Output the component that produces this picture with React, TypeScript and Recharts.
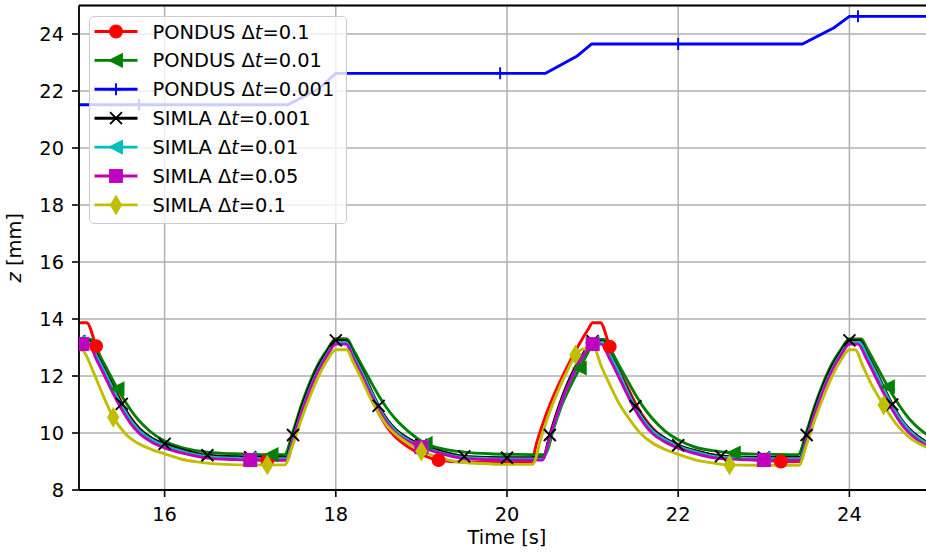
import React from 'react';
import { LineChart, Line, XAxis, YAxis, CartesianGrid, ReferenceLine } from 'recharts';

const FONT = 'DejaVu Sans';
const FS = 19.4;

const X_TICKS = [16, 18, 20, 22, 24];
const Y_TICKS = [8, 10, 12, 14, 16, 18, 20, 22, 24];

// PONDUS dt=0.1 (red)
const T_P01 = [15.0, 15.09, 15.2, 15.3, 15.4, 15.5, 15.6, 15.7, 15.85, 16.0, 16.2, 16.5, 16.8, 17.0, 17.2, 17.42,
  17.5, 17.6, 17.7, 17.8, 17.9, 18.0, 18.1,
  18.2, 18.3, 18.4, 18.5, 18.6, 18.7, 18.85, 19.0, 19.2, 19.5, 20.0, 20.28,
  20.35, 20.45, 20.55, 20.65, 20.75, 20.85, 20.95, 21.0, 21.09,
  21.2, 21.3, 21.4, 21.5, 21.6, 21.7, 21.85, 22.0, 22.2, 22.5, 22.8, 23.0, 23.2, 23.42,
  23.5, 23.6, 23.7, 23.8, 23.9, 24.0, 24.12,
  24.2, 24.3, 24.4, 24.5, 24.6, 24.7, 24.8, 24.9];
const Z_P01 = [13.87, 13.87, 13.05, 12.3, 11.65, 11.05, 10.55, 10.17, 9.8, 9.57, 9.36, 9.18, 9.1, 9.06, 9.05, 9.05,
  9.85, 10.85, 11.7, 12.4, 12.9, 13.3, 13.3,
  12.7, 12.0, 11.3, 10.7, 10.2, 9.85, 9.5, 9.25, 9.05, 8.98, 8.97, 8.97,
  9.7, 10.6, 11.35, 12.0, 12.6, 13.15, 13.65, 13.87, 13.87,
  13.03, 12.3, 11.65, 11.05, 10.55, 10.17, 9.8, 9.57, 9.36, 9.18, 9.08, 9.04, 9.0, 9.0,
  9.85, 10.85, 11.7, 12.4, 12.9, 13.25, 13.25,
  12.8, 12.22, 11.6, 11.0, 10.5, 10.12, 9.86, 9.66];
const M_P01 = [15.2, 17.2, 19.2, 21.2, 23.2];

// PONDUS dt=0.01 (green)
const T_P001 = [15.0, 15.14, 15.2, 15.3, 15.45, 15.55, 15.65, 15.75, 15.9, 16.05, 16.25, 16.5, 16.8, 17.0, 17.25, 17.4,
  17.5, 17.6, 17.7, 17.8, 17.9, 18.0,
  18.13, 18.2, 18.3, 18.4, 18.5, 18.6, 18.7, 18.85, 19.05, 19.25, 19.5, 19.8, 20.1, 20.44,
  20.55, 20.65, 20.75, 20.85, 20.95, 21.03,
  21.14, 21.2, 21.3, 21.4, 21.5, 21.6, 21.7, 21.85, 22.0, 22.2, 22.4, 22.65, 22.9, 23.1, 23.4,
  23.5, 23.6, 23.7, 23.8, 23.9, 24.0,
  24.14, 24.2, 24.3, 24.45, 24.55, 24.65, 24.75, 24.9];
const Z_P001 = [13.28, 13.28, 12.95, 12.4, 11.55, 11.05, 10.62, 10.28, 9.9, 9.65, 9.45, 9.33, 9.27, 9.25, 9.24, 9.24,
  10.05, 11.0, 11.8, 12.45, 12.92, 13.3,
  13.3, 12.95, 12.4, 11.85, 11.32, 10.86, 10.48, 10.05, 9.63, 9.44, 9.33, 9.27, 9.25, 9.24,
  10.2, 11.05, 11.7, 12.28, 12.85, 13.28,
  13.28, 12.98, 12.42, 11.88, 11.35, 10.88, 10.5, 10.06, 9.76, 9.5, 9.38, 9.3, 9.26, 9.25, 9.24,
  10.05, 11.0, 11.8, 12.45, 12.92, 13.3,
  13.3, 13.0, 12.45, 11.62, 11.12, 10.68, 10.33, 9.95];
const M_P001 = [15.45, 17.25, 19.05, 20.85, 22.65, 24.45];

// PONDUS dt=0.001 (blue)
const T_P0001 = [15.0, 15.7, 17.44, 17.8, 18.0, 19.92, 20.45, 20.82, 20.99, 22.0, 23.45, 23.82, 24.0, 24.1, 24.9];
const Z_P0001 = [21.52, 21.52, 21.52, 22.08, 22.62, 22.62, 22.62, 23.23, 23.65, 23.65, 23.65, 24.22, 24.62, 24.62, 24.62];
const M_P0001 = [15.7, 19.92, 22.0, 24.1];

// SIMLA dt=0.001 (black) and dt=0.01 (cyan)
const T_S = [15.0, 15.12, 15.2, 15.3, 15.4, 15.5, 15.6, 15.7, 15.85, 16.0, 16.2, 16.5, 16.8, 17.0, 17.42,
  17.5, 17.6, 17.7, 17.8, 17.9, 18.0,
  18.12, 18.2, 18.3, 18.4, 18.5, 18.6, 18.7, 18.85, 19.0, 19.2, 19.5, 19.8, 20.0, 20.42,
  20.5, 20.6, 20.7, 20.8, 20.9, 21.0,
  21.12, 21.2, 21.3, 21.4, 21.5, 21.6, 21.7, 21.85, 22.0, 22.2, 22.5, 22.8, 23.0, 23.42,
  23.5, 23.6, 23.7, 23.8, 23.9, 24.0,
  24.12, 24.2, 24.3, 24.4, 24.5, 24.6, 24.7, 24.8, 24.9];
const Z_S0001 = [13.22, 13.22, 12.78, 12.2, 11.6, 11.02, 10.52, 10.16, 9.82, 9.62, 9.42, 9.22, 9.17, 9.15, 9.15,
  9.93, 10.88, 11.7, 12.35, 12.85, 13.25,
  13.25, 12.8, 12.22, 11.58, 10.95, 10.47, 10.12, 9.8, 9.58, 9.38, 9.18, 9.14, 9.13, 9.13,
  9.93, 10.88, 11.68, 12.32, 12.82, 13.22,
  13.22, 12.78, 12.2, 11.55, 10.94, 10.47, 10.12, 9.8, 9.57, 9.38, 9.19, 9.15, 9.14, 9.14,
  9.93, 10.88, 11.7, 12.35, 12.85, 13.25,
  13.25, 12.8, 12.22, 11.6, 11.0, 10.5, 10.14, 9.88, 9.68];
const M_S0001 = [15.0, 15.5, 16.0, 16.5, 17.0, 17.5, 18.0, 18.5, 19.0, 19.5, 20.0, 20.5, 21.0, 21.5, 22.0, 22.5, 23.0, 23.5, 24.0, 24.5];
const Z_S001 = [13.18, 13.18, 12.72, 12.14, 11.53, 10.95, 10.46, 10.1, 9.76, 9.56, 9.36, 9.17, 9.12, 9.1, 9.1,
  9.8, 10.75, 11.58, 12.25, 12.77, 13.18,
  13.18, 12.74, 12.16, 11.52, 10.9, 10.42, 10.07, 9.75, 9.53, 9.33, 9.14, 9.1, 9.09, 9.09,
  9.8, 10.75, 11.56, 12.22, 12.75, 13.16,
  13.18, 12.74, 12.16, 11.5, 10.9, 10.43, 10.08, 9.76, 9.53, 9.34, 9.15, 9.11, 9.1, 9.1,
  9.8, 10.75, 11.58, 12.25, 12.77, 13.18,
  13.18, 12.74, 12.16, 11.55, 10.95, 10.46, 10.1, 9.84, 9.64];
const M_S001 = [15.0, 17.0, 19.0, 21.0, 23.0];

// SIMLA dt=0.05 (magenta)
const T_S005 = [15.0, 15.04, 15.12, 15.2, 15.3, 15.4, 15.5, 15.6, 15.7, 15.85, 16.0, 16.2, 16.5, 16.8, 17.0, 17.43,
  17.5, 17.6, 17.7, 17.8, 17.9, 18.0,
  18.12, 18.2, 18.3, 18.4, 18.5, 18.6, 18.7, 18.85, 19.0, 19.2, 19.5, 19.8, 20.0, 20.41,
  20.5, 20.6, 20.7, 20.8, 20.9, 21.0,
  21.1, 21.2, 21.3, 21.4, 21.5, 21.6, 21.7, 21.85, 22.0, 22.2, 22.5, 22.8, 23.0, 23.43,
  23.5, 23.6, 23.7, 23.8, 23.9, 24.0,
  24.1, 24.2, 24.3, 24.4, 24.5, 24.6, 24.7, 24.8, 24.9];
const Z_S005 = [13.12, 13.12, 13.1, 12.6, 12.0, 11.38, 10.82, 10.35, 10.0, 9.68, 9.48, 9.3, 9.12, 9.07, 9.05, 9.05,
  9.75, 10.7, 11.52, 12.2, 12.72, 13.12,
  13.12, 12.65, 12.05, 11.42, 10.82, 10.35, 10.0, 9.7, 9.5, 9.3, 9.1, 9.06, 9.05, 9.05,
  9.85, 10.78, 11.58, 12.22, 12.75, 13.12,
  13.12, 12.6, 12.0, 11.38, 10.8, 10.33, 9.98, 9.68, 9.47, 9.28, 9.1, 9.06, 9.05, 9.05,
  9.75, 10.7, 11.52, 12.2, 12.72, 13.12,
  13.12, 12.6, 12.0, 11.4, 10.82, 10.35, 10.0, 9.75, 9.55];
const M_S005 = [15.04, 17.0, 19.0, 21.0, 23.0];

// SIMLA dt=0.1 (yellow)
const T_S01 = [15.0, 15.05, 15.16, 15.27, 15.4, 15.55, 15.7, 15.85, 16.0, 16.2, 16.4, 16.7, 17.0, 17.2, 17.4,
  17.5, 17.6, 17.7, 17.8, 17.9, 18.0,
  18.13, 18.2, 18.3, 18.4, 18.5, 18.6, 18.7, 18.85, 19.0, 19.2, 19.4, 19.7, 20.0, 20.3,
  20.4, 20.5, 20.6, 20.7, 20.8, 20.9, 21.02,
  21.1, 21.2, 21.32, 21.45, 21.55, 21.7, 21.85, 22.0, 22.2, 22.4, 22.6, 22.9, 23.41,
  23.5, 23.6, 23.7, 23.8, 23.9, 24.0, 24.07,
  24.15, 24.25, 24.4, 24.55, 24.7, 24.9];
const Z_S01 = [12.95, 12.88, 12.2, 11.4, 10.55, 9.95, 9.62, 9.42, 9.27, 9.08, 8.98, 8.9, 8.88, 8.88, 8.88,
  9.6, 10.5, 11.3, 12.0, 12.55, 12.92,
  12.92, 12.5, 11.9, 11.25, 10.7, 10.25, 9.95, 9.62, 9.36, 9.15, 9.0, 8.93, 8.9, 8.9,
  9.85, 10.75, 11.5, 12.15, 12.74, 12.95, 12.95,
  12.35, 11.7, 10.98, 10.4, 10.02, 9.65, 9.42, 9.25, 9.06, 8.95, 8.88, 8.87, 8.87,
  9.6, 10.5, 11.3, 12.0, 12.55, 12.92, 12.92,
  12.4, 11.75, 10.98, 10.3, 9.85, 9.5];
const M_S01 = [15.4, 17.2, 19.0, 20.8, 22.6, 24.4];

type Pt = { t: number; z: number; m: boolean };
const build = (t: number[], z: number[], marks: number[]): Pt[] =>
  t.map((tv, i) => ({ t: tv, z: z[i], m: marks.includes(tv) }));

const SERIES = [
  { name: 'PONDUS', dt: '0.1', color: '#ff0000', shape: 'o', curve: 'monotone', data: build(T_P01, Z_P01, M_P01) },
  { name: 'PONDUS', dt: '0.01', color: '#008000', shape: '<', curve: 'monotone', data: build(T_P001, Z_P001, M_P001) },
  { name: 'PONDUS', dt: '0.001', color: '#0000ff', shape: '+', curve: 'linear', data: build(T_P0001, Z_P0001, M_P0001) },
  { name: 'SIMLA', dt: '0.001', color: '#000000', shape: 'x', curve: 'monotone', data: build(T_S, Z_S0001, M_S0001) },
  { name: 'SIMLA', dt: '0.01', color: '#00bfbf', shape: '<', curve: 'monotone', data: build(T_S, Z_S001, M_S001) },
  { name: 'SIMLA', dt: '0.05', color: '#bf00bf', shape: 's', curve: 'monotone', data: build(T_S005, Z_S005, M_S005) },
  { name: 'SIMLA', dt: '0.1', color: '#bfbf00', shape: 'd', curve: 'monotone', data: build(T_S01, Z_S01, M_S01) },
];

const MS = 12;
const EW = 1.9;

function marker(shape: string, x: number, y: number, color: string) {
  const h = MS / 2;
  switch (shape) {
    case 'o':
      return <circle cx={x} cy={y} r={h} fill={color} stroke={color} strokeWidth={EW} />;
    case '<':
      return <polygon points={`${x - h},${y} ${x + h},${y - h} ${x + h},${y + h}`} fill={color} stroke={color} strokeWidth={EW} />;
    case '+':
      return <path d={`M${x - h},${y}H${x + h}M${x},${y - h}V${y + h}`} stroke={color} strokeWidth={EW} fill="none" />;
    case 'x':
      return <path d={`M${x - h},${y - h}L${x + h},${y + h}M${x - h},${y + h}L${x + h},${y - h}`} stroke={color} strokeWidth={EW} fill="none" />;
    case 's':
      return <rect x={x - h} y={y - h} width={MS} height={MS} fill={color} stroke={color} strokeWidth={EW} />;
    case 'd': {
      const a = 0.424 * MS;
      const b = 0.707 * MS;
      return <polygon points={`${x},${y - b} ${x + a},${y} ${x},${y + b} ${x - a},${y}`} fill={color} stroke={color} strokeWidth={EW} />;
    }
    default:
      return null;
  }
}

const makeDot = (shape: string, color: string) => (props: any) => {
  const { cx, cy, payload, index } = props;
  const key = `dot-${shape}-${color}-${index}`;
  if (!payload || !payload.m || cx == null || cy == null) return <g key={key} />;
  return <g key={key}>{marker(shape, cx, cy, color)}</g>;
};

const LEG_LEFT = 89;
const LEG_TOP = 16;
const LEG_W = 258;
const LEG_H = 208;

function LegendBox() {
  const ox = LEG_LEFT + 1.5;
  const oy = LEG_TOP + 1.5;
  return (
    <div
      style={{
        position: 'absolute',
        left: LEG_LEFT,
        top: LEG_TOP,
        width: LEG_W,
        height: LEG_H,
        boxSizing: 'border-box',
        background: 'rgba(255,255,255,0.8)',
        border: '1.5px solid #cccccc',
        borderRadius: 5,
        zIndex: 10,
        pointerEvents: 'none',
      }}
    >
      <svg width={LEG_W - 3} height={LEG_H - 3} style={{ display: 'block' }}>
        {SERIES.map((s, i) => {
          const cy = 32 + i * 28.9 - oy;
          const x0 = 95 - ox;
          const x1 = 138 - ox;
          return (
            <g key={i}>
              <line x1={x0} y1={cy} x2={x1} y2={cy} stroke={s.color} strokeWidth={2.9} />
              {marker(s.shape, (x0 + x1) / 2, cy, s.color)}
              <text x={153 - ox} y={cy + 7} fontFamily={FONT} fontSize={FS} fill="#000">
                {s.name} Δ<tspan fontStyle="italic">t</tspan>={s.dt}
              </text>
            </g>
          );
        })}
      </svg>
    </div>
  );
}

const YLabel = (props: any) => {
  const vb = props.viewBox || { x: 0, y: 5.5, width: 79, height: 484.5 };
  const cy = vb.y + vb.height / 2;
  return (
    <text transform="rotate(-90)" x={-cy} y={21} textAnchor="middle" fontFamily={FONT} fontSize={FS} fill="#000">
      <tspan fontStyle="italic">z</tspan> [mm]
    </text>
  );
};

const XLabel = (props: any) => {
  const vb = props.viewBox || { x: 79, y: 490, width: 856, height: 65 };
  const cx = vb.x + vb.width / 2;
  return (
    <text x={cx} y={543.5} textAnchor="middle" fontFamily={FONT} fontSize={FS} fill="#000">
      Time [s]
    </text>
  );
};

export default function App() {
  return (
    <div style={{ position: 'absolute', left: 0, top: 0, width: 926, height: 555, overflow: 'hidden', background: '#ffffff' }}>
      <LineChart
        width={935}
        height={555}
        margin={{ top: 5.5, right: 0, bottom: 0, left: 0 }}
        style={{ fontFamily: FONT }}
      >
        <CartesianGrid stroke="#b0b0b0" strokeWidth={1.5} />
        <XAxis
          type="number"
          dataKey="t"
          domain={[15, 25]}
          ticks={X_TICKS}
          interval={0}
          allowDataOverflow
          height={65}
          tickSize={7}
          tickMargin={10}
          tick={{ fill: '#000', fontSize: FS, fontFamily: FONT }}
          tickLine={{ stroke: '#000', strokeWidth: 1.6 }}
          axisLine={{ stroke: '#000', strokeWidth: 1.8 }}
          label={XLabel}
        />
        <YAxis
          type="number"
          domain={[8, 25]}
          ticks={Y_TICKS}
          interval={0}
          allowDataOverflow
          width={79}
          tickSize={7}
          tickMargin={8}
          tick={{ fill: '#000', fontSize: FS, fontFamily: FONT }}
          tickLine={{ stroke: '#000', strokeWidth: 1.6 }}
          axisLine={{ stroke: '#000', strokeWidth: 1.8 }}
          label={YLabel}
        />
        <ReferenceLine y={25} stroke="#000" strokeWidth={1.8} />
        {SERIES.map((s, i) => (
          <Line
            key={i}
            data={s.data}
            dataKey="z"
            name={`${s.name} Δt=${s.dt}`}
            type={s.curve as any}
            stroke={s.color}
            strokeWidth={2.9}
            dot={makeDot(s.shape, s.color)}
            activeDot={false}
            isAnimationActive={false}
          />
        ))}
      </LineChart>
      <LegendBox />
    </div>
  );
}
